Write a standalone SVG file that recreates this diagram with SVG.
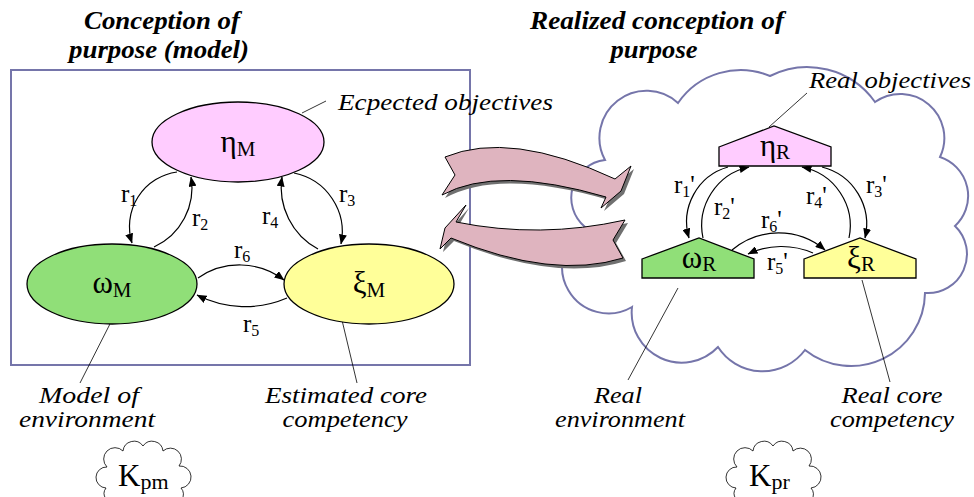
<svg xmlns="http://www.w3.org/2000/svg" width="974" height="497" viewBox="0 0 974 497">
<defs>
<marker id="ah" viewBox="0 0 10 8" refX="9.5" refY="4" markerWidth="10" markerHeight="8" markerUnits="userSpaceOnUse" orient="auto"><path d="M0,0 L10,4 L0,8 Z" fill="#000"/></marker>
</defs>
<style>
text{font-family:"Liberation Serif","Times New Roman",serif;fill:#000}
.title{font-size:25px;font-weight:bold;font-style:italic;text-anchor:middle}
.lab{font-size:24px;font-style:italic}
.mid{text-anchor:middle}
.g{font-size:31px}
.sub{font-size:21px}
.r{font-size:25px}
.rs{font-size:16px}
.conn{fill:none;stroke:#000;stroke-width:1.2;marker-end:url(#ah)}
.lead{fill:none;stroke:#000;stroke-width:0.8}
.frame{fill:none;stroke:#7575aa;stroke-width:2}
.node{stroke:#000;stroke-width:1.3}
.arrow{fill:#dfb4bf;stroke:#000;stroke-width:1}
.shadow{fill:#707070}
.kcloud{fill:none;stroke:#000;stroke-width:0.8}
</style>

<!-- titles -->
<text class="title" x="162" y="29" textLength="156" lengthAdjust="spacingAndGlyphs">Conception of</text>
<text class="title" x="159" y="58" textLength="180" lengthAdjust="spacingAndGlyphs">purpose (model)</text>
<text class="title" x="657" y="29" textLength="254" lengthAdjust="spacingAndGlyphs">Realized conception of</text>
<text class="title" x="654" y="58" textLength="87" lengthAdjust="spacingAndGlyphs">purpose</text>

<!-- frames -->
<g id="model-frame"><rect class="frame" x="11" y="70" width="459" height="295"/></g>
<g id="real-cloud"><path class="frame" d="M605,160 A47,47 0 0 1 678,103 A76,76 0 0 1 770,76 A83,83 0 0 1 875,102 A44,44 0 0 1 940,157 A41,41 0 0 1 955,226 A39,39 0 0 1 925,293 A74,74 0 0 1 805,350 A53,53 0 0 1 718,347 A50,50 0 0 1 632,307 A46,46 0 0 1 585,227 A38,38 0 0 1 605,160 Z"/></g>

<!-- big transfer arrows -->
<g id="arrow-right">
<path class="shadow" transform="translate(3,3)" d="M445,157 Q510,130 615,179 L631,166 L621,191 L601,208 L606,197 Q497,165 442,195 L455,175 Z"/>
<path class="arrow" d="M445,157 Q510,130 615,179 L631,166 L621,191 L601,208 L606,197 Q497,165 442,195 L455,175 Z"/>
</g>
<g id="arrow-left">
<path class="shadow" transform="translate(3,3)" d="M625,220 Q540,239 456,222 L466,205 L445,228 L440,249 L451,238 Q553,280 623,258 L613,240 Z"/>
<path class="arrow" d="M625,220 Q540,239 456,222 L466,205 L445,228 L440,249 L451,238 Q553,280 623,258 L613,240 Z"/>
</g>

<!-- connectors -->
<g id="connectors">
<path class="conn" d="M177,172 A55,55 0 0 0 132,243"/>
<path class="conn" d="M154,247 A65,65 0 0 0 191,177"/>
<path class="conn" d="M294,173 A60,60 0 0 1 341,244"/>
<path class="conn" d="M318,249 A70,70 0 0 1 282,177"/>
<path class="conn" d="M198,278 A73,73 0 0 1 284,280"/>
<path class="conn" d="M287,298 A106,106 0 0 1 197,295"/>
<path class="conn" d="M728,167 A57,57 0 0 0 689,238"/>
<path class="conn" d="M703,238 A60,60 0 0 1 749,167"/>
<path class="conn" d="M822,167 A59,59 0 0 1 865,238"/>
<path class="conn" d="M849,238 A60,60 0 0 0 802,167"/>
<path class="conn" d="M732,250 A72,72 0 0 1 825,250"/>
<path class="conn" d="M813,253 A79,79 0 0 0 748,254"/>
<path class="lead" d="M302,113 L326,101"/>
<path class="lead" d="M113,318 L80,383"/>
<path class="lead" d="M341,316 L357,383"/>
<path class="lead" d="M769,127 L807,93"/>
<path class="lead" d="M678,288 L628,380"/>
<path class="lead" d="M862,280 L890,382"/>
</g>

<!-- connector labels -->
<g id="rel-labels">
<text class="r" x="121" y="202">r<tspan class="rs" dy="4">1</tspan></text>
<text class="r" x="192" y="226">r<tspan class="rs" dy="4">2</tspan></text>
<text class="r" x="339" y="202">r<tspan class="rs" dy="4">3</tspan></text>
<text class="r" x="262" y="224">r<tspan class="rs" dy="4">4</tspan></text>
<text class="r" x="243" y="332">r<tspan class="rs" dy="4">5</tspan></text>
<text class="r" x="234" y="258">r<tspan class="rs" dy="4">6</tspan></text>
<text class="r" x="674" y="193">r<tspan class="rs" dy="4">1</tspan><tspan dy="-4">'</tspan></text>
<text class="r" x="714" y="215">r<tspan class="rs" dy="4">2</tspan><tspan dy="-4">'</tspan></text>
<text class="r" x="866" y="193">r<tspan class="rs" dy="4">3</tspan><tspan dy="-4">'</tspan></text>
<text class="r" x="806" y="204">r<tspan class="rs" dy="4">4</tspan><tspan dy="-4">'</tspan></text>
<text class="r" x="767" y="270">r<tspan class="rs" dy="4">5</tspan><tspan dy="-4">'</tspan></text>
<text class="r" x="761" y="228">r<tspan class="rs" dy="4">6</tspan><tspan dy="-4">'</tspan></text>
</g>

<!-- model nodes -->
<g id="eta-M"><ellipse class="node" cx="238" cy="142" rx="86" ry="40" fill="#ffccff"/><text class="mid" x="238" y="152"><tspan class="g">η</tspan><tspan class="sub" dy="4">M</tspan></text></g>
<g id="omega-M"><ellipse class="node" cx="112" cy="284" rx="85" ry="40" fill="#90df78"/><text class="mid" x="112" y="293"><tspan class="g">ω</tspan><tspan class="sub" dy="4">M</tspan></text></g>
<g id="xi-M"><ellipse class="node" cx="369" cy="284" rx="85" ry="40" fill="#ffff99"/><text class="mid" x="369" y="293"><tspan class="g">ξ</tspan><tspan class="sub" dy="4">M</tspan></text></g>

<!-- real nodes -->
<g id="eta-R"><polygon class="node" points="719,147 774,126 831,147 831,166 719,166" fill="#ffccff"/><text class="mid" x="775" y="156"><tspan class="g">η</tspan><tspan class="sub" dy="3">R</tspan></text></g>
<g id="omega-R"><polygon class="node" points="642,259 699,238 754,259 754,278 642,278" fill="#90df78"/><text class="mid" x="699" y="268"><tspan class="g">ω</tspan><tspan class="sub" dy="3">R</tspan></text></g>
<g id="xi-R"><polygon class="node" points="804,259 860,238 916,259 916,278 804,278" fill="#ffff99"/><text class="mid" x="861" y="268"><tspan class="g">ξ</tspan><tspan class="sub" dy="3">R</tspan></text></g>

<!-- annotations -->
<g id="annotations">
<text class="lab" x="338" y="110" textLength="215" lengthAdjust="spacingAndGlyphs">Ecpected objectives</text>
<text class="lab" x="809" y="88" textLength="162" lengthAdjust="spacingAndGlyphs">Real objectives</text>
<text class="lab mid" x="89" y="403" textLength="100" lengthAdjust="spacingAndGlyphs">Model of</text>
<text class="lab mid" x="87" y="427" textLength="136" lengthAdjust="spacingAndGlyphs">environment</text>
<text class="lab mid" x="346" y="403" textLength="162" lengthAdjust="spacingAndGlyphs">Estimated core</text>
<text class="lab mid" x="345" y="427" textLength="125" lengthAdjust="spacingAndGlyphs">competency</text>
<text class="lab mid" x="618" y="403" textLength="48" lengthAdjust="spacingAndGlyphs">Real</text>
<text class="lab mid" x="620" y="427" textLength="130" lengthAdjust="spacingAndGlyphs">environment</text>
<text class="lab mid" x="892" y="403" textLength="101" lengthAdjust="spacingAndGlyphs">Real core</text>
<text class="lab mid" x="892" y="427" textLength="124" lengthAdjust="spacingAndGlyphs">competency</text>
</g>

<!-- knowledge clouds -->
<g id="K-pm">
<path class="kcloud" d="M116,502 A9,9 0 0 1 106,488 A10,10 0 0 1 107,467 A11,11 0 0 1 123,451 A11,11 0 0 1 143,446 A11,11 0 0 1 163,451 A11,11 0 0 1 179,466 A10,10 0 0 1 181,488 A9,9 0 0 1 170,502"/>
<text x="118" y="486" style="font-size:31px">K<tspan style="font-size:22px" dy="3">pm</tspan></text>
</g>
<g id="K-pr">
<path class="kcloud" transform="translate(630,0)" d="M116,502 A9,9 0 0 1 106,488 A10,10 0 0 1 107,467 A11,11 0 0 1 123,451 A11,11 0 0 1 143,446 A11,11 0 0 1 163,451 A11,11 0 0 1 179,466 A10,10 0 0 1 181,488 A9,9 0 0 1 170,502"/>
<text x="749" y="486" style="font-size:31px">K<tspan style="font-size:22px" dy="3">pr</tspan></text>
</g>
</svg>
